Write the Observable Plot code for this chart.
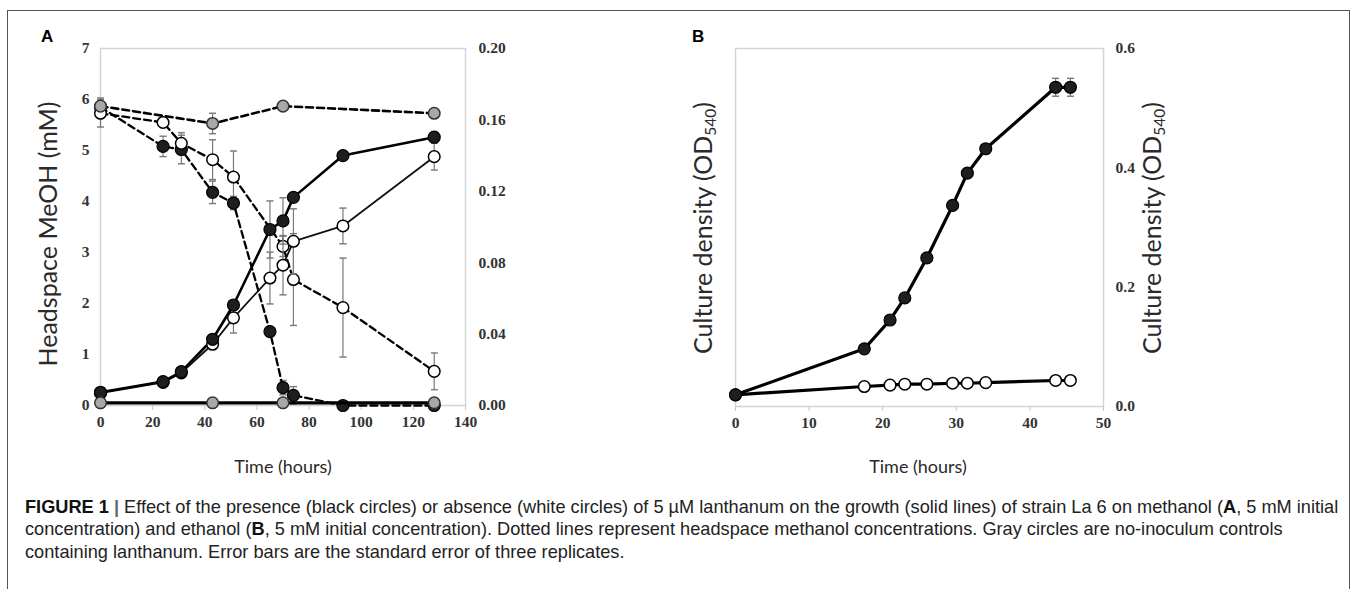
<!DOCTYPE html>
<html><head><meta charset="utf-8">
<script src="https://cdn.jsdelivr.net/npm/d3@7"></script>
<script src="https://cdn.jsdelivr.net/npm/@observablehq/plot@0.6"></script>
<style>
html,body{margin:0;padding:0;background:#fff;overflow:hidden;}
#root{position:relative;width:1358px;height:589px;overflow:hidden;}
.layer{position:absolute;top:0;}
.box{position:absolute;left:7px;top:10px;width:1343px;height:640px;border:1.5px solid #555;box-sizing:border-box;}
.t{position:absolute;font-family:Lato,'Open Sans',sans-serif;color:#2a2a2a;white-space:nowrap;line-height:1;}
.rot{transform:translate(-50%,-50%) rotate(-90deg);}
.ctr{transform:translate(-50%,-50%);}
.panel{position:absolute;font-family:'Liberation Sans',Arial,sans-serif;font-weight:bold;font-size:17px;color:#000;}
.cap{position:absolute;left:25px;top:496px;font-family:'Liberation Sans',Arial,sans-serif;font-size:18.2px;line-height:22.3px;color:#222;white-space:nowrap;}
.cap b{color:#111;}
sub{font-size:0.62em;vertical-align:-0.25em;}
</style></head>
<body><div id="root">
<div class="box"></div>
</div>
<script>
// ---------- Panel A (methanol) ----------
const hoursA = [0, 24, 31, 43, 51, 65, 70, 74, 93, 128];
// growth, OD540 (right axis)
const odLaA      = [0.0074, 0.0134, 0.0190, 0.0371, 0.0563, 0.0986, 0.1034, 0.1166, 0.1400, 0.1503];
const odLaAErr   = [0, 0, 0, 0.002, 0.002, 0.016, 0.013, 0, 0, 0.003];
const odNoLaA    = [0.0069, 0.0129, 0.0183, 0.0343, 0.0491, 0.0714, 0.0786, 0.0920, 0.1006, 0.1394];
const odNoLaAErr = [0, 0, 0, 0.002, 0.0085, 0.0145, 0.0166, 0.0182, 0.0100, 0.0075];
const hoursCtrlA = [0, 43, 70, 128];
const odCtrlA    = [0.0015, 0.0015, 0.0015, 0.0015];
// headspace MeOH, mM (left axis)
const meohLa      = [5.85, 5.08, 5.02, 4.18, 3.97, 1.45, 0.35, 0.20, 0.00, 0.00];
const meohLaErr   = [0.10, 0.20, 0.28, 0.22, 0.13, 0, 0.14, 0.17, 0, 0];
const hoursNoLaMeoh = [0, 24, 31, 43, 51, 70, 74, 93, 128];
const meohNoLa    = [5.73, 5.55, 5.14, 4.82, 4.48, 3.12, 2.47, 1.92, 0.67];
const meohNoLaErr = [0.27, 0, 0.21, 0.39, 0.51, 0.20, 0.90, 0.97, 0.36];
const meohCtrl    = [5.87, 5.53, 5.87, 5.73];
const meohCtrlErr = [0.16, 0.20, 0, 0];
const xTicksA = [0, 20, 40, 60, 80, 100, 120, 140];
const yTicksLeftA = [0, 1, 2, 3, 4, 5, 6, 7];
const yTicksRightA = [0, 0.04, 0.08, 0.12, 0.16, 0.20];

// ---------- Panel B (ethanol) ----------
const hoursB = [0, 17.5, 21, 23, 26, 29.5, 31.5, 34, 43.5, 45.5];
const odLaB    = [0.0196, 0.0966, 0.145, 0.182, 0.249, 0.337, 0.391, 0.432, 0.535, 0.535];
const odLaBErr = [0, 0, 0, 0, 0, 0, 0, 0, 0.015, 0.015];
const odNoLaB  = [0.0196, 0.0335, 0.0358, 0.0374, 0.0374, 0.0390, 0.0390, 0.0400, 0.0436, 0.0436];
const xTicksB = [0, 10, 20, 30, 40, 50];
const yTicksB = [0, 0.2, 0.4, 0.6];

const rows = (xs, ys, es) => xs.map((t, i) => ({t, v: ys[i], e: es ? es[i] : 0}));
const errs = rs => rs.filter(d => d.e > 0).map(d => ({t: d.t, lo: d.v - d.e, hi: d.v + d.e}));

const tickFont = {fontFamily: "'Liberation Serif','Times New Roman',serif", fontSize: 15.5, fontWeight: "bold", fill: "#333"};
const BLACK = {fill: "#1e1e1e", stroke: "#000", strokeWidth: 1.2, r: 6};
const WHITE = {fill: "#fff", stroke: "#000", strokeWidth: 1.5, r: 5.8};
const GRAY  = {fill: "#a8a8a8", stroke: "#333", strokeWidth: 1.5, r: 5.8};
const errStyle = {stroke: "#7a7a7a", strokeWidth: 1.2, markerStart: "tick", markerEnd: "tick"};
const transparent = "background:transparent;overflow:visible;color:#222;";

const root = document.getElementById("root");
function place(svg, left) {
  svg.classList.add("layer");
  svg.style.left = left + "px";
  root.appendChild(svg);
}

// Panel A, layer 1: headspace methanol (left axis, dashed)
const mLa = rows(hoursA, meohLa, meohLaErr);
const mNo = rows(hoursNoLaMeoh, meohNoLa, meohNoLaErr);
const mCt = rows(hoursCtrlA, meohCtrl, meohCtrlErr);
const dash = {x: "t", y: "v", stroke: "#000", strokeWidth: 2.3, strokeDasharray: "7,4"};
place(Plot.plot({
  width: 680, height: 480, marginLeft: 100, marginRight: 215, marginTop: 48, marginBottom: 75,
  style: transparent,
  x: {domain: [0, 140]}, y: {domain: [0, 7]},
  marks: [
    Plot.frame({stroke: "#d4d4d4", strokeWidth: 1.5}),
    Plot.axisX({ticks: xTicksA, tickSize: 5, tickPadding: 5, stroke: "#c8c8c8", label: null, ...tickFont}),
    Plot.axisY({ticks: yTicksLeftA, tickSize: 0, tickPadding: 11, label: null, tickFormat: d3.format("d"), ...tickFont}),
    Plot.link(errs(mLa), {x1: "t", x2: "t", y1: "lo", y2: "hi", ...errStyle}),
    Plot.link(errs(mNo), {x1: "t", x2: "t", y1: "lo", y2: "hi", ...errStyle}),
    Plot.link(errs(mCt), {x1: "t", x2: "t", y1: "lo", y2: "hi", ...errStyle}),
    Plot.line(mLa, dash),
    Plot.line(mNo, dash),
    Plot.line(mCt, {...dash, strokeWidth: 2.6}),
    Plot.dot(mLa, {x: "t", y: "v", ...BLACK}),
    Plot.dot(mNo, {x: "t", y: "v", ...WHITE}),
    Plot.dot(mCt, {x: "t", y: "v", ...GRAY})
  ]
}), 0);

// Panel A, layer 2: growth (right axis, solid)
const gLa = rows(hoursA, odLaA, odLaAErr);
const gNo = rows(hoursA, odNoLaA, odNoLaAErr);
const gCt = rows(hoursCtrlA, odCtrlA, null);
place(Plot.plot({
  width: 680, height: 480, marginLeft: 100, marginRight: 215, marginTop: 48, marginBottom: 75,
  style: transparent,
  x: {domain: [0, 140], axis: null}, y: {domain: [0, 0.2]},
  marks: [
    Plot.axisY({anchor: "right", ticks: yTicksRightA, tickSize: 0, tickPadding: 13, label: null, tickFormat: d3.format(".2f"), ...tickFont}),
    Plot.link(errs(gLa), {x1: "t", x2: "t", y1: "lo", y2: "hi", ...errStyle}),
    Plot.link(errs(gNo), {x1: "t", x2: "t", y1: "lo", y2: "hi", ...errStyle}),
    Plot.line(gCt, {x: "t", y: "v", stroke: "#000", strokeWidth: 3.2}),
    Plot.line(gNo, {x: "t", y: "v", stroke: "#111", strokeWidth: 1.8}),
    Plot.line(gLa, {x: "t", y: "v", stroke: "#000", strokeWidth: 2.6}),
    Plot.dot(gNo, {x: "t", y: "v", ...WHITE}),
    Plot.dot(gLa, {x: "t", y: "v", ...BLACK}),
    Plot.dot(gCt, {x: "t", y: "v", ...GRAY})
  ]
}), 0);

// Panel B
const bLa = rows(hoursB, odLaB, odLaBErr);
const bNo = rows(hoursB, odNoLaB, null);
place(Plot.plot({
  width: 678, height: 480, marginLeft: 55, marginRight: 255, marginTop: 48, marginBottom: 74,
  style: transparent,
  x: {domain: [0, 50]}, y: {domain: [0, 0.6]},
  marks: [
    Plot.frame({stroke: "#d4d4d4", strokeWidth: 1.5}),
    Plot.axisX({ticks: xTicksB, tickSize: 5, tickPadding: 5, stroke: "#c8c8c8", label: null, ...tickFont}),
    Plot.axisY({anchor: "right", ticks: yTicksB, tickSize: 0, tickPadding: 12, label: null, tickFormat: d3.format(".1f"), ...tickFont}),
    Plot.link(errs(bLa), {x1: "t", x2: "t", y1: "lo", y2: "hi", ...errStyle}),
    Plot.line(bNo, {x: "t", y: "v", stroke: "#000", strokeWidth: 3.2}),
    Plot.line(bLa, {x: "t", y: "v", stroke: "#000", strokeWidth: 3.2}),
    Plot.dot(bNo, {x: "t", y: "v", ...WHITE}),
    Plot.dot(bLa, {x: "t", y: "v", ...BLACK})
  ]
}), 680);

// Text: panel letters, axis titles, caption
function addText(html, cls, left, top, size) {
  const d = document.createElement("div");
  d.className = cls;
  d.innerHTML = html;
  d.style.left = left + "px";
  d.style.top = top + "px";
  if (size) d.style.fontSize = size + "px";
  root.appendChild(d);
  return d;
}
addText("A", "panel", 41, 27);
addText("B", "panel", 692, 27);
addText("Headspace MeOH (mM)", "t rot", 47, 234, 25);
addText("Time (hours)", "t ctr", 283, 466, 18);
addText("Culture density (OD<sub>540</sub>)", "t rot", 704, 228, 25);
addText("Culture density (OD<sub>540</sub>)", "t rot", 1153, 228, 25);
addText("Time (hours)", "t ctr", 918, 466, 18);
addText(
  "<b>FIGURE 1</b> <b style='color:#666'>|</b> Effect of the presence (black circles) or absence (white circles) of 5 µM lanthanum on the growth (solid lines) of strain La 6 on methanol (<b>A</b>, 5 mM initial<br>" +
  "concentration) and ethanol (<b>B</b>, 5 mM initial concentration). Dotted lines represent headspace methanol concentrations. Gray circles are no-inoculum controls<br>" +
  "containing lanthanum. Error bars are the standard error of three replicates.",
  "cap", 25, 496);
</script>
</body></html>
